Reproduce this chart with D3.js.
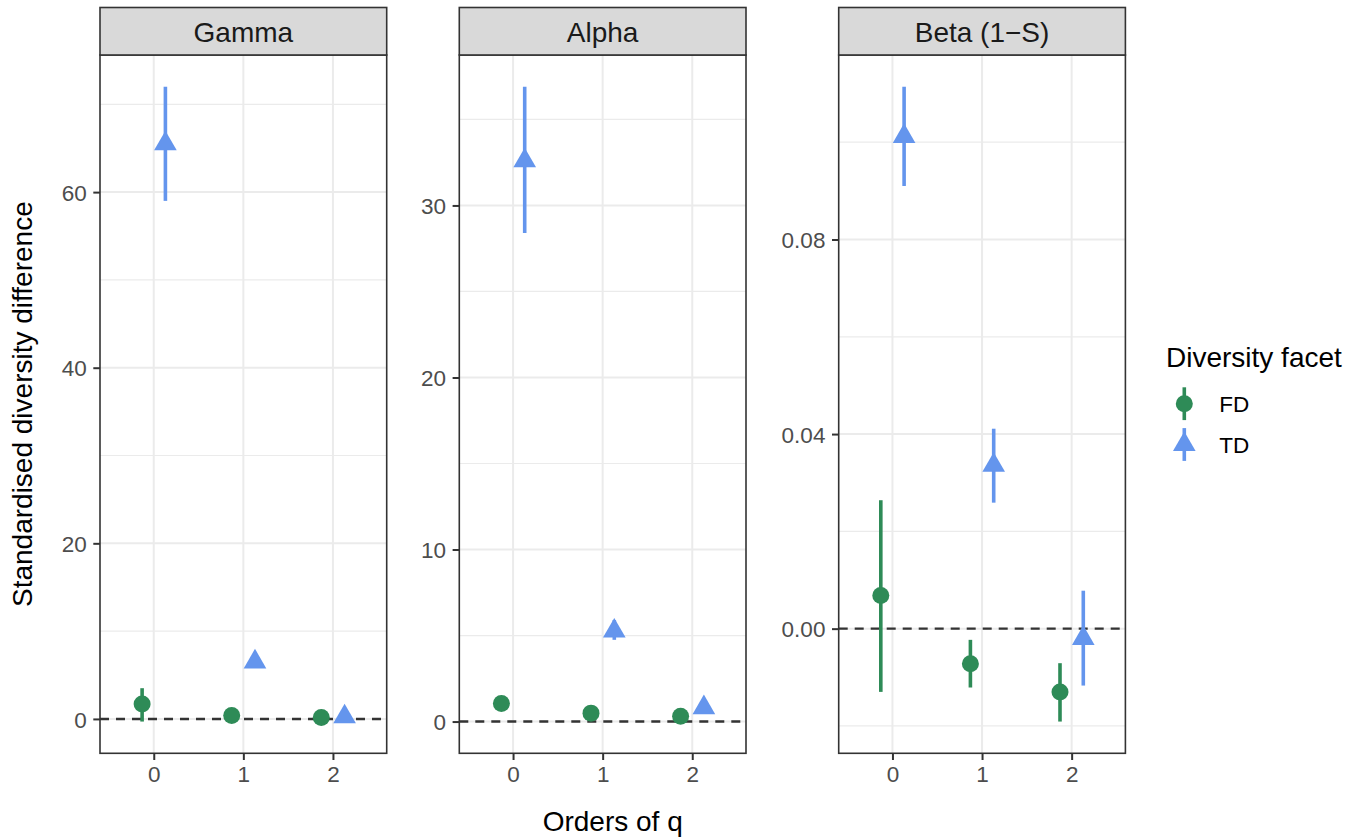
<!DOCTYPE html>
<html>
<head>
<meta charset="utf-8">
<script src="https://cdn.jsdelivr.net/npm/d3@7"></script>
<style>
  html, body { margin: 0; padding: 0; background: #fff; }
  svg { display: block; font-family: "Liberation Sans", Arial, Helvetica, sans-serif; }
</style>
</head>
<body>
<svg width="1359" height="838"></svg>
<script>
// Facets and categories
const facets = ['Gamma', 'Alpha', 'Beta (1\u2212S)'];
const orders = [0, 1, 2];
const groups = ['FD', 'TD'];

// Gamma
const gammaFD   = [1.7, 0.4, 0.15];
const gammaFDlo = [-0.3, 0.1, 0.0];
const gammaFDhi = [3.5, 0.7, 0.35];
const gammaTD   = [65.5, 6.5, 0.25];
const gammaTDlo = [59.0, 6.0, 0.0];
const gammaTDhi = [72.0, 7.2, 0.5];

// Alpha
const alphaFD   = [1.05, 0.49, 0.31];
const alphaFDlo = [0.7, 0.2, 0.0];
const alphaFDhi = [1.4, 0.8, 0.6];
const alphaTD   = [32.6, 5.26, 0.81];
const alphaTDlo = [28.4, 4.75, 0.55];
const alphaTDhi = [36.9, 5.9, 1.1];

// Beta (1-S)
const betaFD   = [0.0068, -0.0072, -0.0130];
const betaFDlo = [-0.0130, -0.0121, -0.0191];
const betaFDhi = [0.0264, -0.0023, -0.0071];
const betaTD   = [0.1012, 0.0336, -0.0020];
const betaTDlo = [0.0910, 0.0259, -0.0117];
const betaTDhi = [0.1114, 0.0411, 0.0078];

// Tick labels
const gammaTicks = [0, 20, 40, 60];
const alphaTicks = [0, 10, 20, 30];
const betaTicks  = [0, 0.04, 0.08];

const colors = { FD: '#2E8B57', TD: '#6495ED' };

function rows (mid, lo, hi, group) {
  return orders.map((q, i) => ({ q: q, group: group, y: mid[i], lo: lo[i], hi: hi[i] }));
}

const panels = [
  { label: facets[0], ticks: gammaTicks, fmt: d3.format('d'),
    data: rows(gammaFD, gammaFDlo, gammaFDhi, 'FD').concat(rows(gammaTD, gammaTDlo, gammaTDhi, 'TD')) },
  { label: facets[1], ticks: alphaTicks, fmt: d3.format('d'),
    data: rows(alphaFD, alphaFDlo, alphaFDhi, 'FD').concat(rows(alphaTD, alphaTDlo, alphaTDhi, 'TD')) },
  { label: facets[2], ticks: betaTicks, fmt: d3.format('.2f'),
    data: rows(betaFD, betaFDlo, betaFDhi, 'FD').concat(rows(betaTD, betaTDlo, betaTDhi, 'TD')) }
];

// triangle like R pch 17, centred the R way
function trianglePath (s) {
  let r = s / 1.5, hw = s / Math.sqrt(3);
  return `M0,${-r}L${hw},${r / 2}L${-hw},${r / 2}Z`;
}

function drawMark (g, group) {
  if (group === 'FD') {
    g.append('circle').attr('r', 8.5).attr('fill', colors.FD);
  } else {
    g.append('path').attr('d', trianglePath(19.6)).attr('fill', colors.TD);
  }
}

function draw () {
  let svg = d3.select('svg');

  let panelLeft = [100, 459.3, 838.7],
      panelW    = 286.7,
      top       = 55,
      bottom    = 753.3,
      stripTop  = 7.5,
      dodge     = 0.13;

  let x = d3.scaleLinear().domain([-0.6, 2.6]).range([0, panelW]);

  panels.forEach((p, pi) => {
    let lo = d3.min(p.data, d => Math.min(d.lo, d.y)),
        hi = d3.max(p.data, d => Math.max(d.hi, d.y)),
        pad = (hi - lo) * 0.05;

    let y = d3.scaleLinear().domain([lo - pad, hi + pad]).range([bottom, top]);

    let step = p.ticks[1] - p.ticks[0];
    let minor = d3.range(p.ticks[0] - step / 2, hi + pad, step).filter(v => v > lo - pad);

    let g = svg.append('g').attr('transform', `translate(${panelLeft[pi]},0)`);

    // grid
    g.append('g').selectAll('line').data(minor).enter().append('line')
      .attr('x1', 0).attr('x2', panelW)
      .attr('y1', d => y(d)).attr('y2', d => y(d))
      .attr('stroke', '#EBEBEB').attr('stroke-width', 1.2);

    g.append('g').selectAll('line').data(p.ticks).enter().append('line')
      .attr('x1', 0).attr('x2', panelW)
      .attr('y1', d => y(d)).attr('y2', d => y(d))
      .attr('stroke', '#EBEBEB').attr('stroke-width', 2);

    g.append('g').selectAll('line').data(orders).enter().append('line')
      .attr('x1', d => x(d)).attr('x2', d => x(d))
      .attr('y1', top).attr('y2', bottom)
      .attr('stroke', '#EBEBEB').attr('stroke-width', 2);

    // zero reference
    g.append('line')
      .attr('x1', 0).attr('x2', panelW)
      .attr('y1', y(0)).attr('y2', y(0))
      .attr('stroke', '#333333').attr('stroke-width', 2.4)
      .attr('stroke-dasharray', '9,7');

    // point ranges
    let pr = g.append('g').selectAll('g').data(p.data).enter().append('g')
      .attr('transform', d => `translate(${x(d.q + (d.group === 'FD' ? -dodge : dodge))},0)`);

    pr.append('line')
      .attr('y1', d => y(d.lo)).attr('y2', d => y(d.hi))
      .attr('stroke', d => colors[d.group]).attr('stroke-width', 3.6);

    pr.each(function (d) {
      let m = d3.select(this).append('g').attr('transform', `translate(0,${y(d.y)})`);
      drawMark(m, d.group);
    });

    // frame
    g.append('rect')
      .attr('x', 0).attr('y', top).attr('width', panelW).attr('height', bottom - top)
      .attr('fill', 'none').attr('stroke', '#333333').attr('stroke-width', 1.6);

    // strip
    g.append('rect')
      .attr('x', 0).attr('y', stripTop).attr('width', panelW).attr('height', top - stripTop)
      .attr('fill', '#D9D9D9').attr('stroke', '#333333').attr('stroke-width', 1.6);

    g.append('text')
      .attr('x', panelW / 2).attr('y', 41.8)
      .attr('text-anchor', 'middle')
      .attr('font-size', 28).attr('fill', '#1A1A1A')
      .text(p.label);

    // y axis
    let yAxis = d3.axisLeft(y).tickValues(p.ticks).tickFormat(p.fmt).tickSize(6.7).tickPadding(6.6);
    let ya = g.append('g').call(yAxis);
    ya.select('.domain').remove();
    ya.selectAll('.tick line').attr('stroke', '#333333').attr('stroke-width', 2);
    ya.selectAll('.tick text')
      .attr('font-size', 22.5).attr('fill', '#4D4D4D')
      .attr('font-family', null).attr('dy', '0.36em');

    // x axis
    let xAxis = d3.axisBottom(x).tickValues(orders).tickFormat(d3.format('d')).tickSize(6.7).tickPadding(6);
    let xa = g.append('g').attr('transform', `translate(0,${bottom})`).call(xAxis);
    xa.select('.domain').remove();
    xa.selectAll('.tick line').attr('stroke', '#333333').attr('stroke-width', 2);
    xa.selectAll('.tick text')
      .attr('font-size', 22.5).attr('fill', '#4D4D4D')
      .attr('font-family', null).attr('dy', '0.71em');
  });

  // axis titles
  svg.append('text')
    .attr('x', (panelLeft[0] + panelLeft[2] + panelW) / 2).attr('y', 831)
    .attr('text-anchor', 'middle').attr('font-size', 28).attr('fill', '#000')
    .text('Orders of q');

  svg.append('text')
    .attr('transform', `translate(32.3,${(top + bottom) / 2}) rotate(-90)`)
    .attr('text-anchor', 'middle').attr('font-size', 28).attr('fill', '#000')
    .text('Standardised diversity difference');

  // legend
  let legend = svg.append('g').attr('transform', 'translate(1166,0)');

  legend.append('text')
    .attr('x', 0).attr('y', 366.5)
    .attr('font-size', 28).attr('fill', '#000')
    .text('Diversity facet');

  let keyY = d3.scalePoint().domain(groups).range([403.7, 444.5]);

  let key = legend.selectAll('.key').data(groups).enter().append('g')
    .attr('class', 'key')
    .attr('transform', d => `translate(18.3,${keyY(d)})`);

  key.append('line')
    .attr('y1', -16.4).attr('y2', 16.4)
    .attr('stroke', d => colors[d]).attr('stroke-width', 3.6);

  key.each(function (d) { drawMark(d3.select(this), d); });

  key.append('text')
    .attr('x', 35).attr('y', 8)
    .attr('font-size', 22.5).attr('fill', '#000')
    .text(d => d);
}

draw();
</script>
</body>
</html>
